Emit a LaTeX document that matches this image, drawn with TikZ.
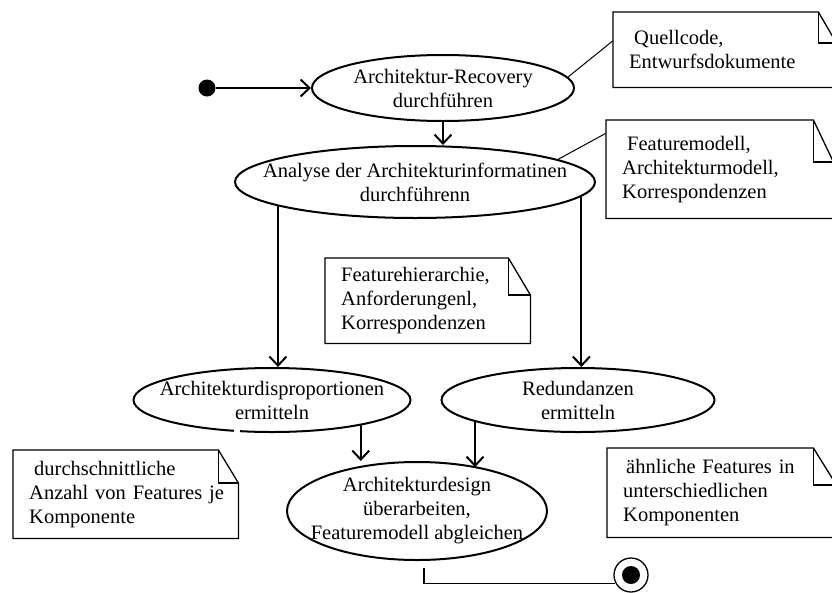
\documentclass[tikz,border=0pt]{standalone}
\usepackage{fontspec}
\setmainfont{Liberation Serif}
\usetikzlibrary{arrows.meta,shapes.geometric}
\tikzstyle{act} = [ellipse, draw=black, line width=2pt, inner xsep=-30pt, inner ysep=-10pt, align=center, font=\fontsize{20.5pt}{24pt}\selectfont]
\tikzstyle{note} = [rectangle, anchor=north west, align=left, inner xsep=16pt, inner ysep=0pt, font=\fontsize{20.5pt}{24pt}\selectfont]
\tikzstyle{noteline} = [line width=1.3pt]
\tikzstyle{link} = [line width=1pt]
\tikzstyle{arrow} = [line width=2pt, -{Straight Barb[length=9pt,width=17pt]}]
\newcommand{\noteframe}[3]{%
  \draw [noteline] (#1.north west) -- ([xshift=-#2]#1.north east) -- ([yshift=-#3]#1.north east) -- (#1.south east) -- (#1.south west) -- cycle;
  \draw [noteline] ([xshift=-#2]#1.north east) |- ([yshift=-#3]#1.north east);}

\begin{document}
\begin{tikzpicture}[x=1pt, y=-1pt]
    \useasboundingbox (0,0) rectangle (832,592);

    % activities
    \node (start) [circle, fill=black, minimum size=17pt, inner sep=0pt] at (207,88) {};
    \node (e1) [act, minimum width=262pt, minimum height=66pt] at (443,88) {Architektur-Recovery\\durchführen};
    \node (e2) [act, minimum width=360pt, minimum height=72pt] at (415,182) {Analyse der Architekturinformatinen\\durchführenn};
    \node (e3) [act, minimum width=277pt, minimum height=64pt] at (272,400) {Architekturdisproportionen\\ermitteln};
    \node (e4) [act, minimum width=273pt, minimum height=64pt] at (578,400) {Redundanzen\\ermitteln};
    \node (e5) [act, minimum width=260pt, minimum height=98pt] at (417,511) {Architekturdesign\\überarbeiten,\\Featuremodell abgleichen};
    \node (final) [circle, draw=black, line width=1.3pt, minimum size=34pt, inner sep=0pt] at (631,575) {};
    \fill (final.center) circle (9pt);
    \fill [white] (234,426) rectangle (240,437);

    % notes
    \node (n1) [note, text width=191pt, minimum height=75pt] at (613,12) {\hspace*{5pt}Quellcode,\\Entwurfsdokumente};
    \node (n2) [note, text width=195pt, minimum height=98pt] at (606,120) {\hspace*{5pt}Featuremodell,\\Architekturmodell,\\Korrespondenzen};
    \node (n3) [note, text width=173pt, minimum height=85pt] at (325,258) {Featurehierarchie,\\Anforderungenl,\\Korrespondenzen};
    \node (n4) [note, text width=193pt, minimum height=88pt] at (13,450) {\hspace*{5pt}durchschnittliche\\\mbox{Anzahl von Features je}\\Komponente};
    \node (n5) [note, text width=197pt, minimum height=89pt] at (607,448) {\hspace*{3pt}\mbox{ähnliche Features in}\\unterschiedlichen\\Komponenten};
    \noteframe{n1}{18pt}{31pt}
    \noteframe{n2}{20pt}{42pt}
    \noteframe{n3}{22pt}{37pt}
    \noteframe{n4}{20pt}{33pt}
    \noteframe{n5}{23pt}{37pt}

    \draw [link] ([yshift=9pt]n1.west) -- (e1.5);
    \draw [link] ([yshift=36pt]n2.west) -- (e2.9);

    % flow
    \draw [arrow] (start) -- (e1);
    \draw [arrow] (e1.south) -- (e1.south |- e2.north);
    \draw [arrow] (e2.190) -- (e2.190 |- e3.north);
    \draw [arrow] (e2.-5) -- (e2.-5 |- e4.north);
    \draw [arrow] (e3.-16) -- (e3.-16 |- e5.north);
    \draw [arrow] (e4.192) -- (e4.192 |- e5.35);
    \draw [noteline] ([xshift=7pt, yshift=-7pt]e5.south) |- (final.208);
\end{tikzpicture}
\end{document}
